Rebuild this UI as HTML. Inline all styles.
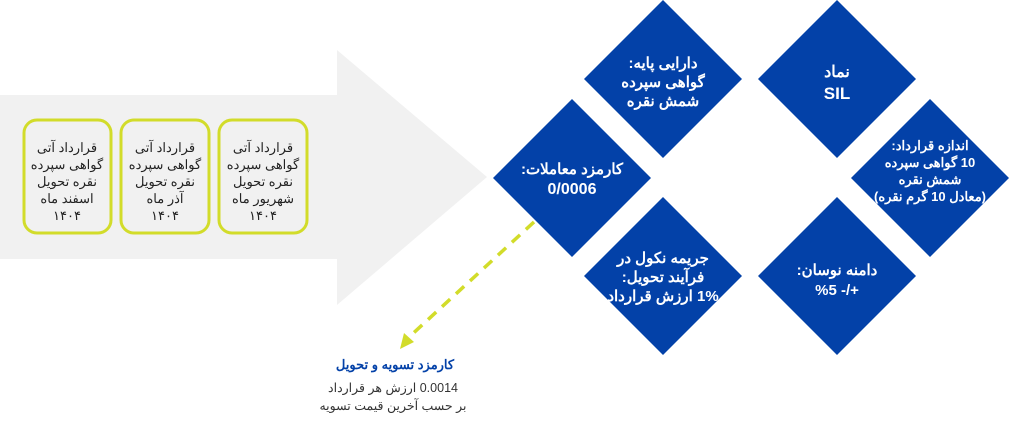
<!DOCTYPE html>
<html><head><meta charset="utf-8"><style>
html,body{margin:0;padding:0;background:#fff;}
svg{display:block}
text{font-family:"Liberation Sans","Noto Sans CJK SC",sans-serif;}
.w{fill:#fff;font-weight:bold;font-size:15px;text-anchor:middle;direction:rtl}
.b{fill:#222;font-size:13px;text-anchor:middle;direction:rtl}
</style></head><body>
<svg width="1024" height="425" viewBox="0 0 1024 425">
<polygon points="0,95 337,95 337,50 487,177 337,305 337,259 0,259" fill="#f1f1f1"/>
<g fill="none" stroke="#d2dc2a" stroke-width="3">
<rect x="24" y="120" width="87" height="113" rx="13"/>
<rect x="121" y="120" width="88" height="113" rx="13"/>
<rect x="219" y="120" width="88" height="113" rx="13"/>
</g>
<g class="b">
<text x="67" y="152">قرارداد آتی</text><text x="67" y="169">گواهی سپرده</text><text x="67" y="186">نقره تحویل</text><text x="67" y="203">اسفند ماه</text><text x="67" y="220">۱۴۰۴</text>
<text x="165" y="152">قرارداد آتی</text><text x="165" y="169">گواهی سپرده</text><text x="165" y="186">نقره تحویل</text><text x="165" y="203">آذر ماه</text><text x="165" y="220">۱۴۰۴</text>
<text x="263" y="152">قرارداد آتی</text><text x="263" y="169">گواهی سپرده</text><text x="263" y="186">نقره تحویل</text><text x="263" y="203">شهریور ماه</text><text x="263" y="220">۱۴۰۴</text>
</g>
<g fill="#0341a8">
<polygon points="663,0 742,79 663,158 584,79"/>
<polygon points="572,99 651,178 572,257 493,178"/>
<polygon points="663,197 742,276 663,355 584,276"/>
<polygon points="837,0 916,79 837,158 758,79"/>
<polygon points="930,99 1009,178 930,257 851,178"/>
<polygon points="837,197 916,276 837,355 758,276"/>
</g>
<g class="w">
<text x="663" y="68">دارایی پایه:</text><text x="663" y="87">گواهی سپرده</text><text x="663" y="106">شمش نقره</text>
<text x="572" y="174">کارمزد معاملات:</text><text x="572" y="194" font-size="16">0/0006</text>
<text x="663" y="263">جریمه نکول در</text><text x="663" y="282">فرآیند تحویل:</text><text x="663" y="301">1% ارزش قرارداد</text>
<text x="837" y="77" font-size="16">نماد</text><text x="837" y="99" font-size="17">SIL</text>
<text x="930" y="150" font-size="13">اندازه قرارداد:</text><text x="930" y="167" font-size="13">10 گواهی سپرده</text><text x="930" y="184" font-size="13">شمش نقره</text><text x="930" y="201" font-size="13">(معادل 10 گرم نقره)</text>
<text x="837" y="275">دامنه نوسان:</text><text x="837" y="295" direction="ltr">%5 -/+</text>
</g>
<line x1="534" y1="222" x2="408" y2="338" stroke="#d2dc2a" stroke-width="3.5" stroke-dasharray="11,8"/>
<polygon points="400,349 404,333 414,342" fill="#d2dc2a"/>
<text x="395" y="369" fill="#0341a8" font-weight="bold" font-size="13" text-anchor="middle" direction="rtl">کارمزد تسویه و تحویل</text>
<text x="393" y="392" fill="#333" font-size="12.5" text-anchor="middle" direction="rtl">0.0014 ارزش هر قرارداد</text>
<text x="393" y="410" fill="#333" font-size="12.5" text-anchor="middle" direction="rtl">بر حسب آخرین قیمت تسویه</text>
</svg>
</body></html>
